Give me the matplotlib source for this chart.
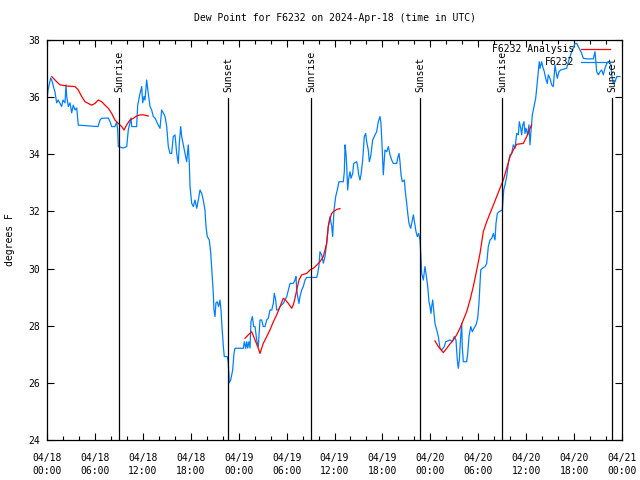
import numpy as np
import matplotlib
matplotlib.use("Agg")
import matplotlib.pyplot as plt
import matplotlib.dates as mdates

plt.rcParams['font.family'] = ['DejaVu Sans Mono']
FS = 7

# ---------------- data (hours since 2024-04-18 00:00 UTC, degrees F) ----------------
obs_h = [0, 0.13, 0.46, 0.59, 1.0, 1.21, 1.41, 1.84, 2.0, 2.25, 2.38, 2.47, 2.67, 2.88, 3.09, 3.29, 3.51, 3.72, 3.92,
         6.39, 6.64, 6.85, 7.68, 7.89, 8.1, 8.51, 8.73, 8.85, 8.93, 9.55, 9.98, 10.18, 10.39, 10.52, 10.61, 11.22,
         11.36, 11.65, 11.86, 11.98, 12.15, 12.27, 12.48, 12.68, 12.9, 13.11, 13.31, 13.52, 13.74, 13.94, 14.15,
         14.36, 14.56, 14.78, 14.99, 15.19, 15.4, 15.61, 15.81, 16.03, 16.24, 16.44, 16.57, 16.74, 16.87, 17.07,
         17.28, 17.41, 17.49, 17.69, 17.82, 17.91, 18.12, 18.32, 18.53, 18.75, 18.95, 19.16, 19.37, 19.57, 19.78,
         19.91, 20.07, 20.32, 20.5, 20.66, 20.82, 20.91, 21.04, 21.16, 21.32, 21.5, 21.66, 21.79, 21.88, 22.0,
         22.08, 22.2, 22.58, 22.7, 22.83, 23.0, 23.25, 23.42, 23.54, 24.58, 24.71, 24.88, 25.01, 25.13, 25.29,
         25.42, 25.54, 25.71, 25.88, 26.05, 26.26, 26.46, 26.67, 26.88, 27.08, 27.3, 27.51, 27.71, 27.92, 28.14,
         28.34, 28.46, 28.64, 28.76, 28.96, 29.18, 29.39, 29.59, 29.8, 30.02, 30.22, 30.43, 30.84, 31.05, 31.18,
         31.27, 31.39, 31.55, 31.68, 31.89, 32.09, 32.31, 32.52, 33.77, 33.9, 34.06, 34.18, 34.4, 34.6, 34.81,
         35.02, 35.22, 35.44, 35.65, 35.77, 35.94, 36.15, 36.35, 36.56, 37.1, 37.23, 37.32, 37.44, 37.53, 37.65,
         37.78, 37.94, 38.07, 38.28, 38.4, 38.78, 38.9, 39.03, 39.19, 39.32, 39.53, 39.61, 39.73, 39.91, 40.03,
         40.23, 40.36, 40.53, 40.66, 40.78, 41.07, 41.28, 41.48, 41.7, 41.82, 41.95, 42.11, 42.32, 42.54, 42.74,
         42.95, 43.16, 43.36, 43.79, 43.91, 44.08, 44.2, 44.33, 44.49, 44.74, 44.87, 45.04, 45.17, 45.33, 45.54,
         45.71, 45.87, 46.04, 46.21, 46.37, 46.54, 46.71, 46.8, 46.92, 47.12, 47.33, 47.46, 47.67, 47.83, 47.96,
         48.08, 48.17, 48.3, 48.46, 48.58, 48.8, 49.0, 49.21, 49.42, 49.75, 49.92, 50.46, 50.75, 51.0, 51.21,
         51.38, 51.5, 51.63, 51.8, 51.93, 52.0, 52.13, 52.55, 52.68, 52.84, 53.06, 53.26, 53.47, 53.72, 53.93,
         54.09, 54.31, 54.51, 54.85, 55.06, 55.26, 55.47, 55.69, 55.89, 56.1, 56.22, 56.39, 56.6, 57.01, 57.19,
         57.35, 57.56, 57.76, 57.98, 58.19, 58.39, 58.6, 58.82, 59.02, 59.14, 59.32, 59.44, 59.57, 59.73, 59.85,
         59.98, 60.19, 60.35, 60.48, 60.6, 60.77, 60.98, 61.19, 61.32, 61.52, 61.64, 61.73, 61.94, 62.07, 62.27,
         62.44, 62.64, 62.77, 62.98, 63.19, 63.4, 63.61, 63.74, 63.9, 64.11, 64.32, 65.07, 65.28, 65.49, 65.7,
         65.9, 66.11, 66.33, 66.53, 66.74, 66.95, 67.15, 67.58, 68.41, 68.62, 68.71, 68.83, 69.04, 69.25, 69.46,
         69.66, 69.87, 70.09, 70.29, 70.5, 70.63, 70.71, 70.91, 71.13, 71.34, 71.75]
obs_f = [35.9, 36.25, 36.67, 36.6, 36.18, 35.8, 35.9, 35.67, 35.9, 35.8, 36.43, 36.02, 35.67, 35.8, 35.45, 35.72,
         35.55, 35.62, 35.02, 34.97, 35.2, 35.26, 35.27, 35.14, 34.97, 34.97, 35.14, 34.85, 34.27, 34.22, 34.27,
         34.85, 35.1, 35.27, 34.97, 34.97, 35.72, 36.13, 36.37, 35.8, 36.02, 35.9, 36.6, 36.13, 35.67, 35.55,
         35.32, 35.27, 35.14, 35.02, 34.91, 35.55, 35.45, 35.32, 34.97, 34.27, 34.03, 34.03, 34.62, 34.68, 34.03,
         33.68, 34.38, 34.97, 34.62, 34.33, 34.03, 33.86, 33.74, 34.33, 33.68, 32.87, 32.28, 32.17, 32.4, 32.11,
         32.4, 32.75, 32.63, 32.4, 32.05, 31.47, 31.12, 31.0, 30.55, 29.85, 29.15, 28.55, 28.32, 28.8, 28.84,
         28.67, 28.9, 28.55, 28.1, 27.62, 27.27, 26.92, 26.92, 26.7, 26.0, 26.1, 26.45, 27.05, 27.21, 27.21,
         27.44, 27.21, 27.44, 27.22, 27.44, 27.22, 28.14, 28.32, 27.97, 27.97, 27.5, 27.27, 28.2, 28.2, 27.97,
         27.97, 28.2, 28.26, 28.55, 28.55, 28.78, 29.13, 28.9, 28.55, 28.55, 28.67, 28.73, 28.78, 28.9, 29.02,
         29.25, 29.48, 29.48, 29.6, 29.72, 29.25, 29.02, 28.78, 29.02, 29.25, 29.37, 29.6, 29.69, 29.69, 29.83,
         30.12, 30.59, 30.47, 30.19, 30.42, 30.88, 31.47, 31.82, 31.47, 31.12, 32.05, 32.52, 32.75, 33.04, 33.04,
         33.39, 34.33, 34.03, 33.57, 32.75, 33.16, 33.39, 33.16, 33.33, 33.68, 33.74, 33.57, 33.28, 33.1, 33.28,
         33.8, 34.15, 34.62, 34.73, 34.44, 34.15, 33.74, 33.92, 34.21, 34.5, 34.68, 34.79, 35.14, 35.32, 35.08,
         34.33, 33.28, 34.15, 34.09, 34.27, 33.98, 33.8, 33.68, 33.68, 33.86, 34.03, 33.74, 33.28, 33.04, 33.1,
         32.69, 32.28, 31.93, 31.58, 31.41, 31.64, 31.88, 31.58, 31.29, 31.12, 31.23, 31.0, 30.53, 29.83, 29.6,
         30.07, 29.83, 29.37, 28.84, 28.67, 28.43, 28.67, 28.9, 28.43, 28.08, 27.85, 27.62, 27.21, 27.15, 27.27,
         27.44, 27.5, 27.44, 27.62, 27.5, 26.8, 26.51, 26.8, 27.62, 28.08, 27.27, 26.74, 26.74, 27.03, 27.62,
         27.97, 27.79, 27.91, 28.03, 28.26, 28.78, 29.95, 30.01, 30.07, 30.18, 30.77, 31.0, 31.06, 31.23, 31.0,
         31.58, 31.93, 31.99, 32.05, 32.75, 32.93, 33.22, 33.68, 33.98, 34.03, 34.33, 34.21, 34.73, 34.68, 35.14,
         34.91, 34.68, 35.03, 35.14, 34.73, 34.91, 34.68, 35.03, 34.33, 34.79, 35.38, 35.67, 35.96, 36.31, 36.89,
         37.24, 37.01, 37.24, 37.07, 36.89, 36.66, 36.48, 36.78, 36.66, 36.43, 36.37, 37.13, 36.89, 36.66, 36.89,
         36.95, 37.01, 37.24, 37.42, 37.59, 37.71, 37.88, 37.88, 37.77, 37.65, 37.53, 37.36, 37.34, 37.34, 37.59,
         37.3, 36.89, 36.78, 36.89, 36.95, 36.78, 37.01, 37.18, 37.24, 37.18, 37.13, 36.78, 36.48, 36.54, 36.72,
         36.72]

# Analysis series, three separate segments
ana1_h = [0.59, 1.21, 1.63, 2.47, 3.51, 3.92, 4.35, 4.76, 5.17, 5.6, 6.01, 6.42, 6.85, 7.26, 7.68, 8.1, 8.51,
          8.93, 9.35, 9.64, 9.98, 10.39, 10.81, 11.23, 11.65, 12.06, 12.68]
ana1_f = [36.72, 36.54, 36.43, 36.39, 36.37, 36.25, 36.02, 35.84, 35.78, 35.72, 35.78, 35.9, 35.84, 35.72, 35.61,
          35.43, 35.2, 35.08, 34.97, 34.85, 35.03, 35.2, 35.26, 35.34, 35.38, 35.38, 35.34]
ana2_h = [24.79, 25.21, 25.63, 26.05, 26.46, 26.67, 27.08, 27.51, 27.92, 28.34, 28.76, 29.18, 29.59, 29.8, 30.22,
          30.64, 30.84, 31.05, 31.27, 31.55, 31.89, 32.52, 32.93, 33.35, 33.77, 34.18, 34.6, 35.02, 35.22, 35.44,
          35.65, 35.85, 36.27, 36.69]
ana2_f = [27.56, 27.68, 27.79, 27.5, 27.21, 27.03, 27.38, 27.62, 27.85, 28.14, 28.38, 28.67, 28.96, 28.92, 28.78,
          28.61, 28.73, 28.96, 29.25, 29.6, 29.78, 29.83, 29.95, 30.01, 30.12, 30.24, 30.42, 30.88, 31.47, 31.76,
          31.93, 31.99, 32.07, 32.1]
ana3_h = [48.58, 49.0, 49.62, 50.05, 50.46, 50.88, 51.3, 51.71, 52.13, 52.55, 52.97, 53.38, 53.81, 54.22, 54.63,
          55.06, 55.47, 55.89, 56.31, 56.72, 57.14, 57.56, 57.98, 58.39, 58.82, 59.64, 60.07, 60.48, 60.69]
ana3_f = [27.47, 27.27, 27.06, 27.21, 27.36, 27.5, 27.68, 27.91, 28.2, 28.49, 28.9, 29.37, 29.95, 30.53, 31.29,
          31.64, 31.93, 32.22, 32.52, 32.81, 33.1, 33.51, 33.92, 34.15, 34.35, 34.38, 34.62, 34.91, 35.03]

sun_times = ["2024-04-18T09:03", "2024-04-18T22:42", "2024-04-19T09:03",
             "2024-04-19T22:42", "2024-04-20T09:01", "2024-04-20T22:44"]
sun_labels = ["Sunrise", "Sunset", "Sunrise", "Sunset", "Sunrise", "Sunset"]

title = "Dew Point for F6232 on 2024-Apr-18 (time in UTC)"
ylabel = "degrees F"
series_names = ["F6232 Analysis", "F6232"]
y_ticks = [24, 26, 28, 30, 32, 34, 36, 38]

base = np.datetime64("2024-04-18T00:00")


def to_dt(hours):
    return base + (np.array(hours) * 3600).astype("int64").astype("timedelta64[s]")


BLUE = "#0080ff"
RED = "#ff0000"

fig = plt.figure(figsize=(6.4, 4.8), dpi=100)
ax = fig.add_axes([47 / 640, 40 / 480, 575 / 640, 400 / 480])

ln_r, = ax.plot(to_dt(ana1_h), ana1_f, color=RED, lw=0.9, label=series_names[0], zorder=3)
ax.plot(to_dt(ana2_h), ana2_f, color=RED, lw=0.9, zorder=3)
ax.plot(to_dt(ana3_h), ana3_f, color=RED, lw=0.9, zorder=3)
ln_b, = ax.plot(to_dt(obs_h), obs_f, color=BLUE, lw=0.9, label=series_names[1], zorder=2)

trans = ax.get_xaxis_transform()
for t, lab in zip(sun_times, sun_labels):
    tt = np.datetime64(t)
    ax.plot([tt, tt], [0, 0.855], transform=trans, color="black", lw=0.9, zorder=4)
    ax.text(tt, 0.87, lab, transform=trans, rotation=90, ha="center", va="bottom",
            fontsize=FS, zorder=5)

ax.set_xlim(np.datetime64("2024-04-18T00:00"), np.datetime64("2024-04-21T00:00"))
ax.set_ylim(24, 38)
ax.set_yticks(y_ticks)
ax.xaxis.set_major_locator(mdates.HourLocator(byhour=[0, 6, 12, 18]))
ax.xaxis.set_minor_locator(mdates.HourLocator(interval=2))
ax.xaxis.set_major_formatter(mdates.DateFormatter("%m/%d\n%H:%M"))

ax.tick_params(axis="both", which="both", direction="in", top=True, right=True, labelsize=FS)
ax.tick_params(axis="x", which="major", length=5, width=0.8, pad=9)
ax.tick_params(axis="x", which="minor", length=3, width=0.8)
ax.tick_params(axis="y", which="major", length=5, width=0.8, pad=5)
for lbl in ax.get_xticklabels():
    lbl.set_linespacing(1.5)
for sp in ax.spines.values():
    sp.set_linewidth(0.9)

ax.set_title(title, fontsize=FS, pad=14)
ax.set_ylabel(ylabel, fontsize=FS)
ax.yaxis.set_label_coords(-0.056, 0.5)

ax.legend(handles=[ln_r, ln_b], loc="upper right", bbox_to_anchor=(0.979, 0.99),
          frameon=False, fontsize=FS, markerfirst=False, handlelength=3.0,
          handletextpad=0.7, borderaxespad=0, borderpad=0, labelspacing=0.3)

fig.savefig("out.png", dpi=100)
